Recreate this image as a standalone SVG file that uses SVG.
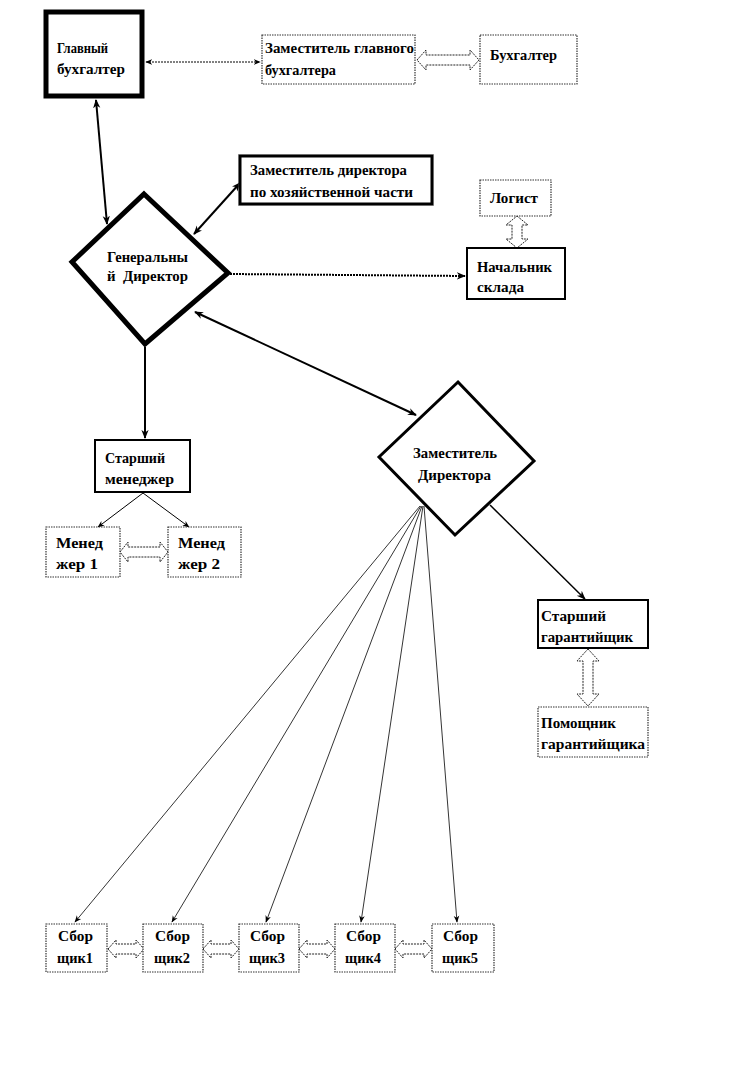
<svg xmlns="http://www.w3.org/2000/svg" width="732" height="1068" viewBox="0 0 732 1068">
<style>
text{font-family:"Liberation Serif","DejaVu Serif",serif;font-weight:bold;font-size:15px;fill:#000}
.box{fill:#fff;stroke:#000;stroke-width:2}
.dot{fill:#fff;stroke:#333;stroke-width:1.2;stroke-dasharray:1.5 1}
.ln{fill:none;stroke:#000}
.hol{fill:#fff;stroke:#222;stroke-width:1;stroke-dasharray:2 1}
</style>
<defs>
<marker id="ah" viewBox="0 0 10 10" refX="9" refY="5" markerWidth="9" markerHeight="9" markerUnits="userSpaceOnUse" orient="auto-start-reverse"><path d="M0,1 L10,5 L0,9 L3,5 Z" fill="#000"/></marker>
<marker id="ahs" viewBox="0 0 10 10" refX="9" refY="5" markerWidth="7" markerHeight="7" markerUnits="userSpaceOnUse" orient="auto-start-reverse"><path d="M0,1 L10,5 L0,9 L3,5 Z" fill="#000"/></marker>
</defs>
<rect width="732" height="1068" fill="#fff"/>
<g id="connectors">
<line class="ln" x1="146" y1="62" x2="260" y2="62" stroke-width="1" stroke-dasharray="2 1" marker-start="url(#ahs)" marker-end="url(#ahs)"/>
<line class="ln" x1="96" y1="100" x2="107" y2="224" stroke-width="2" marker-start="url(#ah)" marker-end="url(#ah)"/>
<line class="ln" x1="194" y1="234" x2="240" y2="183" stroke-width="2" marker-start="url(#ah)" marker-end="url(#ah)"/>
<line class="ln" x1="230" y1="274" x2="465" y2="276" stroke-width="2" stroke-dasharray="2 1" marker-end="url(#ah)"/>
<line class="ln" x1="195" y1="312" x2="416" y2="415" stroke-width="2" marker-start="url(#ah)" marker-end="url(#ah)"/>
<line class="ln" x1="145" y1="347" x2="145" y2="438" stroke-width="2" marker-end="url(#ah)"/>
<line class="ln" x1="143" y1="493" x2="98" y2="527" stroke-width="1" marker-end="url(#ahs)"/>
<line class="ln" x1="143" y1="493" x2="189" y2="527" stroke-width="1" marker-end="url(#ahs)"/>
<line class="ln" x1="490" y1="505" x2="585" y2="599" stroke-width="1.5" marker-end="url(#ah)"/>
<line class="ln" x1="420" y1="506" x2="75" y2="922" stroke-width="0.8" marker-end="url(#ahs)"/>
<line class="ln" x1="421" y1="506" x2="172" y2="922" stroke-width="0.8" marker-end="url(#ahs)"/>
<line class="ln" x1="422" y1="506" x2="266" y2="922" stroke-width="0.8" marker-end="url(#ahs)"/>
<line class="ln" x1="423" y1="506" x2="361" y2="922" stroke-width="0.8" marker-end="url(#ahs)"/>
<line class="ln" x1="424" y1="506" x2="457" y2="922" stroke-width="0.8" marker-end="url(#ahs)"/>
<path class="hol" d="M417,60 L426,50 L426,55 L470,55 L470,50 L479,60 L470,70 L470,65 L426,65 L426,70 Z"/>
<path class="hol" d="M517,216 L528,225 L522,225 L522,239 L528,239 L517,248 L506,239 L512,239 L512,225 L506,225 Z"/>
<path class="hol" d="M120,552 L128,542 L128,547 L160,547 L160,542 L168,552 L160,562 L160,557 L128,557 L128,562 Z"/>
<path class="hol" d="M588,649 L599,661 L593,661 L593,694 L599,694 L588,706 L577,694 L583,694 L583,661 L577,661 Z"/>
<path class="hol" d="M108,949 L116,940 L116,944 L136,944 L136,940 L144,949 L136,958 L136,954 L116,954 L116,958 Z"/>
<path class="hol" d="M203,949 L211,940 L211,944 L231,944 L231,940 L239,949 L231,958 L231,954 L211,954 L211,958 Z"/>
<path class="hol" d="M299,949 L307,940 L307,944 L327,944 L327,940 L335,949 L327,958 L327,954 L307,954 L307,958 Z"/>
<path class="hol" d="M395,949 L403,940 L403,944 L424,944 L424,940 L432,949 L424,958 L424,954 L403,954 L403,958 Z"/>
</g>
<g id="glavbuh"><rect x="46" y="12" width="96" height="84" fill="#fff" stroke="#000" stroke-width="5"/><text x="57" y="53" textLength="51" lengthAdjust="spacingAndGlyphs">Главный</text><text x="57" y="74" textLength="68" lengthAdjust="spacingAndGlyphs">бухгалтер</text></g>
<g id="zamglavbuh"><rect class="dot" x="262" y="35" width="153" height="49"/><text x="265" y="53" textLength="149" lengthAdjust="spacingAndGlyphs">Заместитель главного</text><text x="265" y="75" textLength="71" lengthAdjust="spacingAndGlyphs">бухгалтера</text></g>
<g id="buh"><rect class="dot" x="480" y="35" width="97" height="49"/><text x="490" y="60" textLength="67" lengthAdjust="spacingAndGlyphs">Бухгалтер</text></g>
<g id="zamhoz"><rect x="240" y="156" width="192" height="48" fill="#fff" stroke="#000" stroke-width="3"/><rect x="238.5" y="154.5" width="195" height="51" fill="none" stroke="#555" stroke-width="0.8" stroke-dasharray="1 1"/><text x="250" y="175" textLength="157" lengthAdjust="spacingAndGlyphs">Заместитель директора</text><text x="250" y="197" textLength="163" lengthAdjust="spacingAndGlyphs">по хозяйственной части</text></g>
<g id="gendir"><polygon points="144,194 228,273 145,344 72,262" fill="#fff" stroke="#000" stroke-width="5" stroke-linejoin="miter"/><text x="107" y="262" textLength="81" lengthAdjust="spacingAndGlyphs">Генеральны</text><text x="107" y="281" textLength="81" lengthAdjust="spacingAndGlyphs" xml:space="preserve">й  Директор</text></g>
<g id="logist"><rect class="dot" x="480" y="180" width="71" height="36"/><text x="490" y="203" textLength="48" lengthAdjust="spacingAndGlyphs">Логист</text></g>
<g id="nachsklad"><rect class="box" x="467" y="248" width="98" height="51"/><text x="477" y="272" textLength="75" lengthAdjust="spacingAndGlyphs">Начальник</text><text x="477" y="292" textLength="47" lengthAdjust="spacingAndGlyphs">склада</text></g>
<g id="zamdir"><polygon points="458,382 534,461 455,535 379,457" fill="#fff" stroke="#000" stroke-width="3"/><text x="413" y="458" textLength="84" lengthAdjust="spacingAndGlyphs">Заместитель</text><text x="418" y="480" textLength="73" lengthAdjust="spacingAndGlyphs">Директора</text></g>
<g id="starmen"><rect class="box" x="95" y="440" width="95" height="52"/><text x="105" y="463" textLength="60" lengthAdjust="spacingAndGlyphs">Старший</text><text x="105" y="484" textLength="69" lengthAdjust="spacingAndGlyphs">менеджер</text></g>
<g id="men1"><rect class="dot" x="46" y="527" width="74" height="50"/><text x="56" y="548" textLength="47" lengthAdjust="spacingAndGlyphs">Менед</text><text x="56" y="569" textLength="42" lengthAdjust="spacingAndGlyphs">жер 1</text></g>
<g id="men2"><rect class="dot" x="168" y="527" width="73" height="50"/><text x="178" y="548" textLength="47" lengthAdjust="spacingAndGlyphs">Менед</text><text x="178" y="569" textLength="42" lengthAdjust="spacingAndGlyphs">жер 2</text></g>
<g id="stargar"><rect class="box" x="538" y="600" width="110" height="48"/><text x="541" y="621" textLength="65" lengthAdjust="spacingAndGlyphs">Старший</text><text x="541" y="642" textLength="92" lengthAdjust="spacingAndGlyphs">гарантийщик</text></g>
<g id="pomgar"><rect class="dot" x="538" y="707" width="110" height="50"/><text x="541" y="728" textLength="75" lengthAdjust="spacingAndGlyphs">Помощник</text><text x="541" y="749" textLength="104" lengthAdjust="spacingAndGlyphs">гарантийщика</text></g>
<g id="sb1"><rect class="dot" x="46" y="924" width="61" height="48"/><text x="58" y="941" textLength="35" lengthAdjust="spacingAndGlyphs">Сбор</text><text x="57" y="963" textLength="36" lengthAdjust="spacingAndGlyphs">щик1</text></g>
<g id="sb2"><rect class="dot" x="143" y="924" width="60" height="48"/><text x="155" y="941" textLength="35" lengthAdjust="spacingAndGlyphs">Сбор</text><text x="154" y="963" textLength="36" lengthAdjust="spacingAndGlyphs">щик2</text></g>
<g id="sb3"><rect class="dot" x="239" y="924" width="60" height="48"/><text x="250" y="941" textLength="35" lengthAdjust="spacingAndGlyphs">Сбор</text><text x="249" y="963" textLength="36" lengthAdjust="spacingAndGlyphs">щик3</text></g>
<g id="sb4"><rect class="dot" x="335" y="924" width="60" height="48"/><text x="346" y="941" textLength="35" lengthAdjust="spacingAndGlyphs">Сбор</text><text x="345" y="963" textLength="36" lengthAdjust="spacingAndGlyphs">щик4</text></g>
<g id="sb5"><rect class="dot" x="432" y="924" width="62" height="48"/><text x="443" y="941" textLength="35" lengthAdjust="spacingAndGlyphs">Сбор</text><text x="442" y="963" textLength="36" lengthAdjust="spacingAndGlyphs">щик5</text></g>
</svg>
